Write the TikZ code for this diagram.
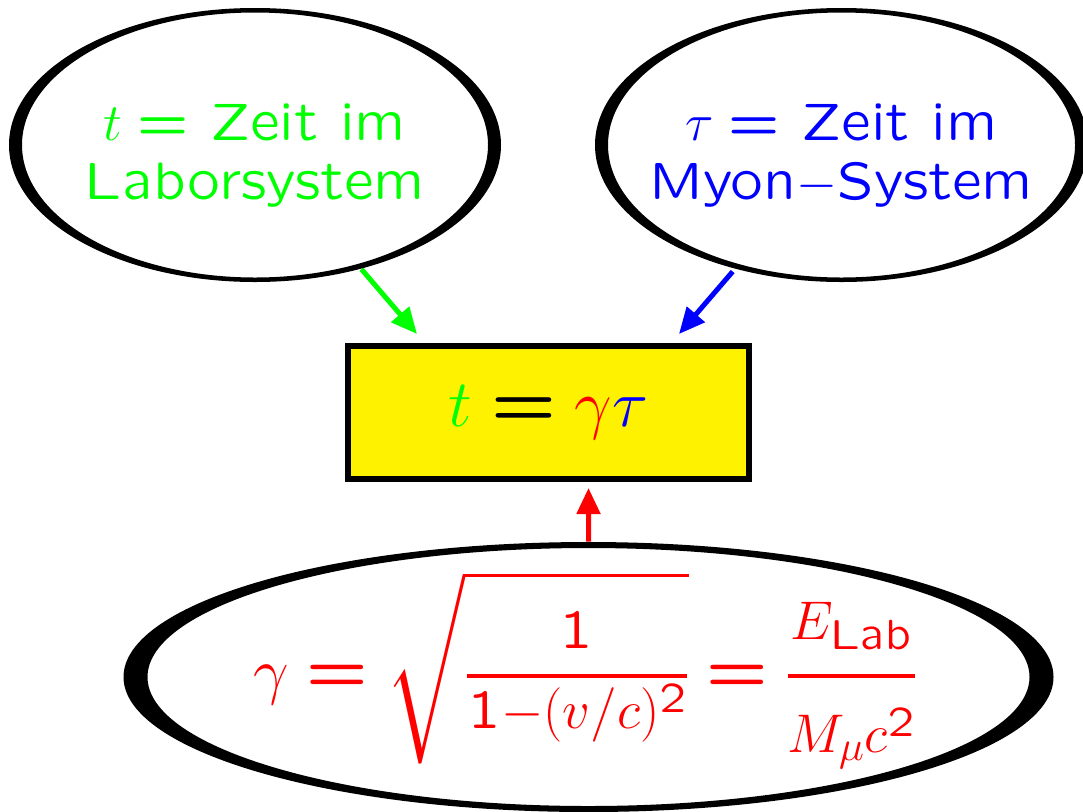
\documentclass[tikz,border=0pt]{standalone}
\usepackage{fix-cm}
\usepackage{amsmath}
\usetikzlibrary{shapes.geometric,arrows.meta,calc}
% SliTeX-Sans, frei skalierbar
\DeclareFontFamily{OT1}{slss}{\hyphenchar\font=-1}
\DeclareFontShape{OT1}{slss}{m}{n}{<-> lcmss8}{}
\DeclareMathAlphabet{\mathsl}{OT1}{slss}{m}{n}
% grosse Wurzelzeichen
\DeclareFontFamily{OMX}{bigex}{}
\DeclareFontShape{OMX}{bigex}{m}{n}{<-> s * [1.25] cmex10}{}
\DeclareSymbolFont{bigex}{OMX}{bigex}{m}{n}
\DeclareMathRadical{\sqrtsign}{symbols}{"70}{bigex}{"70}
\DeclareMathSizes{36}{36}{31}{24}
\newcommand{\slides}{\usefont{OT1}{slss}{m}{n}}
\newcommand{\sleq}{\mathrel{\hbox{\slides =}}}
\newcommand{\slfrac}[2]{\genfrac{}{}{0.08cm}{1}{#1}{#2}}
\tikzset{
  blase/.style={
    ellipse,
    minimum width=9.84cm,
    minimum height=5.48cm,
    align=center,
    font=\fontsize{30}{33.5}\selectfont\slides
  },
  ring/.style={
    fill=black,
    even odd rule
  },
  pfeil/.style={
    line width=0.1cm,
    -{Triangle[length=0.52cm,width=0.46cm]}
  }
}
\begin{document}
\begin{tikzpicture}
    \useasboundingbox (0,0) rectangle (21.66,-16.22);
    \node[blase, text=green] (labor) at (5.10,-2.90) {\rule{0pt}{0.88em}$t \sleq$ Zeit im\\Laborsystem};
    \node[blase, text=blue] (myon) at (16.83,-2.90) {\rule{0pt}{0.88em}$\tau \sleq$ Zeit im\\Myon$-$System};
    \node[draw, line width=0.12cm, fill=yellow, minimum width=8.02cm, minimum height=2.66cm,
          font=\fontsize{38}{42}\selectfont] (zeit) at (10.97,-8.25)
          {${\color{green}t} \sleq {\color{red}\gamma}{\color{blue}\tau}$};
    \node[ellipse, minimum width=18.6cm, minimum height=5.4cm] (lorentz) at (11.77,-13.54) {};
    \node[anchor=base, text=red, font=\fontsize{36}{40}\selectfont] (gammaf)
          at ($(lorentz.center)+(-0.06,-0.30)$)
          {$\gamma \sleq \sqrt{\slfrac{\rule{0pt}{0.94cm}\mathsl{1}\rule[-0.44cm]{0pt}{0pt}}
             {\rule{0pt}{0.92cm}\mathsl{1}-(v/c)^{\mathsl{2}}}}
           \sleq \slfrac{E_{\mathsl{Lab}}\rule[-0.62cm]{0pt}{0pt}}
             {\rule{0pt}{1.40cm}M_\mu c^{\mathsl{2}}}$};
    %
    \coordinate (gspitze) at ($(zeit.north west)+(1.44,0.18)$);
    \coordinate (bspitze) at ($(zeit.north east)+(-1.46,0.18)$);
    \coordinate (rspitze) at ($(zeit.south)+(0.80,-0.12)$);
    \draw[pfeil, green] (labor) -- (gspitze);
    \draw[pfeil, blue] (myon) -- (bspitze);
    \draw[pfeil, red] (lorentz) -- (rspitze);
    %
    \fill[ring] (labor.center) ellipse [x radius=4.92, y radius=2.74]
                (labor.center) ellipse [x radius=4.66, y radius=2.65];
    \fill[ring] (myon.center) ellipse [x radius=4.93, y radius=2.74]
                (myon.center) ellipse [x radius=4.67, y radius=2.65];
    \fill[ring] (lorentz.center) ellipse [x radius=9.30, y radius=2.70]
                (lorentz.center) ellipse [x radius=8.82, y radius=2.58];
\end{tikzpicture}
\end{document}
